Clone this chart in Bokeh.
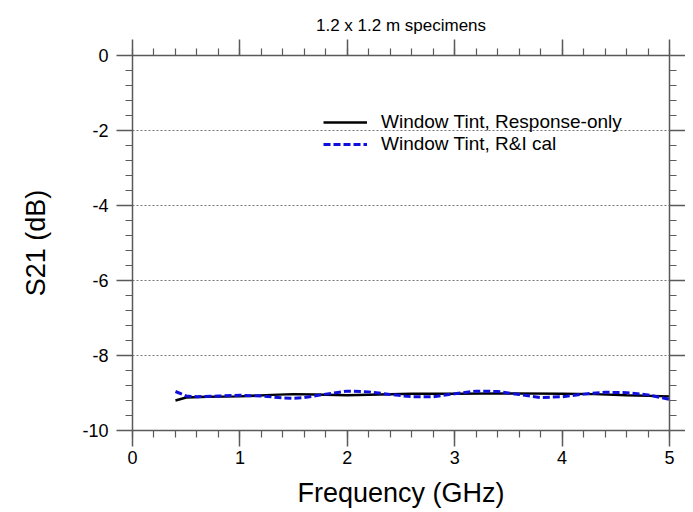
from bokeh.plotting import figure
from bokeh.models import (Range1d, LinearAxis, SingleIntervalTicker, Legend, LegendItem,
                          PrintfTickFormatter, CustomJSTickFormatter)
from bokeh.embed import file_html
from bokeh.resources import INLINE

# Data
freq_resp = [0.4, 0.5, 0.7, 1.0, 1.3, 1.5, 1.7, 2.0, 2.3, 2.6, 3.0, 3.5, 4.0, 4.3, 4.6, 5.0]
s21_resp = [-9.20, -9.12, -9.10, -9.09, -9.05, -9.03, -9.04, -9.06, -9.04, -9.02, -9.02, -9.01, -9.02, -9.03, -9.06, -9.09]

freq_ri = [0.4, 0.5, 0.6, 0.8, 1.0, 1.2, 1.4, 1.5, 1.6, 1.8, 2.0, 2.2, 2.4, 2.6, 2.8, 3.0,
           3.2, 3.4, 3.6, 3.8, 4.0, 4.2, 4.4, 4.6, 4.8, 5.0]
s21_ri = [-8.96, -9.08, -9.10, -9.08, -9.06, -9.08, -9.13, -9.14, -9.12, -9.03, -8.95, -8.97,
          -9.04, -9.10, -9.10, -9.02, -8.95, -8.96, -9.04, -9.12, -9.10, -9.03, -8.98, -8.99,
          -9.05, -9.17]

series_labels = ["Window Tint, Response-only", "Window Tint, R&I cal"]
title_text = "1.2 x 1.2 m specimens"
x_label = "Frequency (GHz)"
y_label = "S21 (dB)"

FONT = "Liberation Sans"
AX_COLOR = "#5a5a5a"

p = figure(width=685, height=510, output_backend="svg", toolbar_location=None,
           x_range=Range1d(0, 5), y_range=Range1d(-10, 0),
           min_border_left=132, min_border_right=16, min_border_top=55, min_border_bottom=0)
p.outline_line_color = None
p.background_fill_color = "white"

p.title.text = title_text
p.title.align = "center"
p.title.text_font = FONT
p.title.text_font_style = "normal"
p.title.text_font_size = "17px"
p.title.text_color = "black"

p.xgrid.grid_line_color = None
p.ygrid.grid_line_color = "#777777"
p.ygrid.grid_line_dash = "2 2"
p.ygrid.grid_line_width = 1


def style_axis(ax, show_labels):
    ax.axis_line_color = AX_COLOR
    ax.axis_line_width = 1.5
    ax.major_tick_line_color = AX_COLOR
    ax.minor_tick_line_color = AX_COLOR
    ax.major_tick_line_width = 1.5
    ax.minor_tick_line_width = 1.2
    ax.major_tick_out = 16
    ax.major_tick_in = 0
    ax.minor_tick_out = 7
    ax.minor_tick_in = 0
    if show_labels:
        ax.formatter = PrintfTickFormatter(format="%d")
        ax.major_label_text_font = FONT
        ax.major_label_text_font_size = "18px"
        ax.major_label_text_color = "black"
        ax.axis_label_text_font = FONT
        ax.axis_label_text_font_size = "27px"
        ax.axis_label_text_font_style = "normal"
        ax.axis_label_text_color = "black"
    else:
        ax.formatter = CustomJSTickFormatter(code="return ''")
        ax.major_label_standoff = 0


p.xaxis.ticker = SingleIntervalTicker(interval=1, num_minor_ticks=5)
p.yaxis.ticker = SingleIntervalTicker(interval=2, num_minor_ticks=5)
p.xaxis.axis_label = x_label
p.yaxis.axis_label = y_label
style_axis(p.xaxis[0], True)
style_axis(p.yaxis[0], True)
p.xaxis.major_label_standoff = 4
p.xaxis.axis_label_standoff = 11
p.yaxis.major_label_standoff = 8
p.yaxis.axis_label_standoff = 28

top = LinearAxis(ticker=SingleIntervalTicker(interval=1, num_minor_ticks=5))
style_axis(top, False)
top.major_label_standoff = 6
p.add_layout(top, "above")
right = LinearAxis(ticker=SingleIntervalTicker(interval=2, num_minor_ticks=5))
style_axis(right, False)
p.add_layout(right, "right")

r1 = p.line(freq_resp, s21_resp, line_color="black", line_width=2.5)
r2 = p.line(freq_ri, s21_ri, line_color="#1010dd", line_width=3, line_dash="7 3")

legend = Legend(items=[LegendItem(label=series_labels[0], renderers=[r1]),
                       LegendItem(label=series_labels[1], renderers=[r2])],
                location=(191, 275))
legend.border_line_color = None
legend.background_fill_alpha = 0
legend.padding = 0
legend.margin = 0
legend.spacing = 0
legend.glyph_width = 44
legend.glyph_height = 22
legend.label_height = 22
legend.label_standoff = 14
legend.label_text_font = FONT
legend.label_text_font_size = "19px"
legend.label_text_color = "black"
p.add_layout(legend, "center")

open("out.html", "w").write(file_html(p, INLINE))
